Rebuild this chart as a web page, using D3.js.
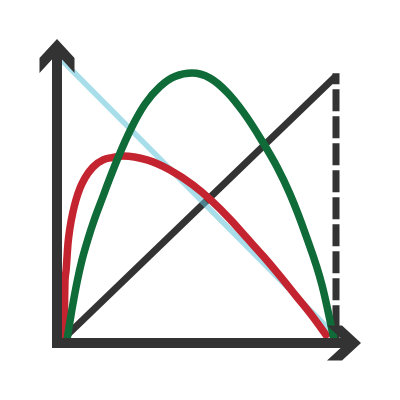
<!DOCTYPE html>
<html>
<head>
<meta charset="utf-8">
<script src="https://cdn.jsdelivr.net/npm/d3@7"></script>
<style>
  html, body { margin: 0; padding: 0; background: #ffffff; }
  svg { display: block; }
</style>
</head>
<body>
<svg id="chart" width="400" height="400"></svg>
<script>
// ---- data ----
const xDomain = [0, 100];
const yDomain = [0, 100];

const diagonalLine = [[0, 0], [100, 100]];
const fallingLine = [[-1, 107], [98.9, 2.6]];
const limitLine = [[100, 101], [100, -1]];

const greenCurve = [
  [1.8, 0], [3.6, 11.4], [5.5, 22.0], [7.3, 30.3], [9.5, 38.3], [12.0, 46.2],
  [14.6, 53.4], [17.5, 61.4], [20.1, 68.2], [25.5, 80.7], [30.3, 89.4],
  [35.8, 96.0], [41.2, 99.8], [47.4, 101.1], [54.0, 99.2], [60.2, 93.9],
  [66.1, 86.4], [73.0, 75.4], [78.5, 65.5], [83.2, 55.3], [89.1, 39.4],
  [94.9, 20.8], [99.3, 0]
];

const redCurve = [
  [0.5, -1], [0.9, 12], [1.1, 22.7], [1.5, 26.5], [2.2, 36.7], [2.9, 42.4],
  [4.0, 48.5], [5.1, 53.0], [6.6, 57.6], [8.4, 61.4], [11.3, 65.5],
  [15.0, 68.2], [18.2, 69.1], [22.3, 69.7], [31.0, 68.2], [39.4, 64.4],
  [47.8, 58.7], [61.3, 45.8], [67.5, 38.6], [73.4, 31.8], [79.6, 24.2],
  [85.4, 16.7], [91.6, 8.7], [97.1, 0.8]
];

// ---- drawing ----
const svg = d3.select("#chart");
const x = d3.scaleLinear().domain(xDomain).range([62, 336]);
const y = d3.scaleLinear().domain(yDomain).range([340, 76]);

const straight = d3.line().x(d => x(d[0])).y(d => y(d[1]));
const smooth = d3.line().x(d => x(d[0])).y(d => y(d[1])).curve(d3.curveMonotoneX);

const dark = "#333333";

// black diagonal
svg.append("path").attr("d", straight(diagonalLine))
  .attr("fill", "none").attr("stroke", dark).attr("stroke-width", 7);

// dashed vertical limit
svg.append("path").attr("d", straight(limitLine))
  .attr("fill", "none").attr("stroke", dark).attr("stroke-width", 7)
  .attr("stroke-dasharray", "22 5").attr("stroke-dashoffset", 11);

// light blue falling line (translucent)
svg.append("path").attr("d", straight(fallingLine))
  .attr("fill", "none").attr("stroke", "#61c3d7").attr("stroke-opacity", 0.55)
  .attr("stroke-width", 5.5);

// red curve
svg.append("path").attr("d", smooth(redCurve))
  .attr("fill", "none").attr("stroke", "#c4242f").attr("stroke-width", 7.5);

// green curve
svg.append("path").attr("d", smooth(greenCurve))
  .attr("fill", "none").attr("stroke", "#0f6b38").attr("stroke-width", 7.5);

// axes
const axisX = x(0) - 5;
const axisY = y(0) + 3;
const topTip = y(100) - 37;
const rightTip = x(100) + 25;

svg.append("line")
  .attr("x1", axisX).attr("y1", axisY + 5).attr("x2", axisX).attr("y2", topTip + 15)
  .attr("stroke", dark).attr("stroke-width", 10);
svg.append("line")
  .attr("x1", axisX - 5).attr("y1", axisY).attr("x2", rightTip - 15).attr("y2", axisY)
  .attr("stroke", dark).attr("stroke-width", 10);

// arrowhead shape in local coords (pointing +x)
const head = [[0, 0], [-19, -17.5], [-34, -17.5], [-15, 0], [-34, 17.5], [-19, 17.5]];
const poly = pts => "M" + pts.map(p => p.join(",")).join("L") + "Z";

svg.append("path")
  .attr("d", poly(head.map(([lx, ly]) => [rightTip + lx, axisY + ly])))
  .attr("fill", dark);
svg.append("path")
  .attr("d", poly(head.map(([lx, ly]) => [axisX + ly, topTip - lx])))
  .attr("fill", dark);
</script>
</body>
</html>
